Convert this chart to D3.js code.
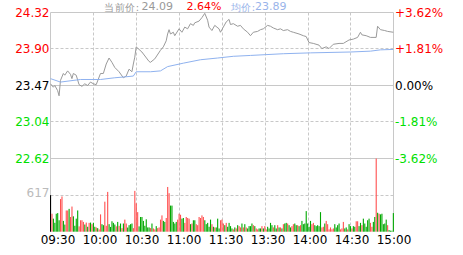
<!DOCTYPE html>
<html><head><meta charset="utf-8">
<script src="https://cdn.jsdelivr.net/npm/d3@7"></script>
<style>body{margin:0;background:#fff}svg{display:block}text{font-family:"DejaVu Sans",sans-serif}</style>
</head><body><svg id="c" width="463" height="255"></svg>
<script>
// ---- data ----
const prevClose = 23.47;
const priceTicks = [24.32, 23.90, 23.47, 23.04, 22.62];
const pctTicks = ["+3.62%", "+1.81%", "0.00%", "-1.81%", "-3.62%"];
const timeLabels = ["09:30","10:00","10:30","11:00","11:30","13:30","14:00","14:30","15:00"];
const volTickLabel = "617";
const volMax = 1234;
const header = {name:"当前价:", price:"24.09", pct:"2.64%", avgName:"均价:", avg:"23.89"};

// price line (minute index, price)
const priceMin = [0,2,3,5,6,7,9,10,12,14,15,16,18,20,22,24,26,28,30,32,35,37,39,41,43,45,48,51,53,55,57,58,59,60,64,69,70,73,77,79,81,82,83,84,86,87,90,92,94,96,98,100,101,104,106,108,110,111,113,115,118,119,121,123,125,126,128,131,133,135,138,140,142,145,147,149,152,154,156,159,161,163,166,168,170,174,177,179,181,184,188,190,193,195,198,202,205,209,212,215,217,218,221,224,228,229,231,234,236,240];
const priceVal = [23.49,23.45,23.47,23.41,23.35,23.53,23.61,23.59,23.64,23.60,23.55,23.61,23.59,23.48,23.46,23.49,23.47,23.51,23.49,23.48,23.61,23.61,23.72,23.79,23.74,23.68,23.63,23.56,23.58,23.66,23.63,23.72,23.80,23.92,23.86,23.75,23.74,23.78,23.88,23.92,23.99,24.07,24.12,24.07,24.09,24.05,24.13,24.09,24.15,24.13,24.19,24.17,24.20,24.22,24.26,24.31,24.23,24.15,24.11,24.17,24.13,24.09,24.15,24.21,24.24,24.18,24.19,24.16,24.17,24.13,24.09,24.05,24.09,24.10,24.12,24.13,24.17,24.16,24.14,24.12,24.13,24.11,24.12,24.10,24.09,24.07,24.05,24.04,23.97,23.96,23.94,23.90,23.92,23.90,23.95,23.96,23.96,24.00,24.01,24.03,24.09,24.06,24.05,24.03,24.03,24.16,24.12,24.11,24.10,24.09];
// average price line
const avgMin = [0,7,21,35,45,52,58,60,70,77,82,93,105,117,128,140,163,182,210,224,231,240];
const avgVal = [23.55,23.51,23.54,23.54,23.56,23.57,23.58,23.63,23.63,23.64,23.69,23.73,23.77,23.79,23.81,23.82,23.84,23.85,23.86,23.87,23.885,23.89];
// volume per minute (241) and direction K=first, R=up, G=down
const volume = [
616,303,220,150,303,314,193,550,594,182,
120,358,358,385,248,424,259,100,220,358,
90,193,193,165,121,154,83,149,154,127,
149,83,72,60,39,292,127,110,506,100,
671,127,80,176,149,121,90,165,99,138,
60,138,204,138,70,110,127,138,60,688,
479,330,90,248,248,182,100,209,72,72,
60,138,55,39,94,60,72,204,275,182,
165,231,754,649,440,440,165,138,165,204,
303,286,220,231,149,248,231,220,127,138,
193,193,127,110,248,231,275,248,193,127,
149,83,204,127,83,72,72,220,55,193,
204,138,110,149,83,149,94,55,39,72,
55,110,94,72,138,72,127,72,55,94,
94,138,110,94,55,39,55,55,94,55,
94,39,83,55,149,110,72,110,55,110,
72,72,55,127,138,149,138,110,72,94,
127,138,110,110,94,110,182,127,138,347,
138,83,182,127,149,110,94,110,94,330,
72,83,138,182,127,39,72,39,55,127,
72,110,138,39,55,165,55,72,39,127,
94,55,94,83,176,176,94,149,110,220,
138,83,193,220,149,83,165,248,1234,319,
303,292,303,127,138,204,110,28,17,17,314];
const volDir = (
"KRGGGGGRRG"+"GRRGRRGGGG"+"RRRRGRGRGR"+"GGRGRRGGRR"+"RGGGGGRGRG"+
"RGRRGGGGRR"+"RRGGGGGGGG"+"RGRRGRRRRG"+"GRRRGGGGGR"+"RRGGRRRRGR"+
"GGRRRRRRGG"+"GGGRGRGGGR"+"RRGRGGGGRG"+"RGRRGRGRGG"+"GGRGRRGGRG"+
"RRGGGGRGGR"+"GRGRGGRGGR"+"RGGRGRGGGG"+"GGGRRGGGGG"+"RRGRRRRRRG"+
"GGGRRRGGRG"+"GRGGRRGGRG"+"GGGGRRGGRG"+"RGGGGGRGGGG").split("");

// ---- layout ----
const svg = d3.select("#c");
const L = 50.5, R = 393.5, T = 12.5, MID = 158.5, B = 231.7;
const x = d3.scaleLinear().domain([0, 240]).range([50.5, 393.3]);
const y = d3.scaleLinear().domain([priceTicks[4], priceTicks[0]]).range([MID, T]);
const yv = d3.scaleLinear().domain([0, volMax]).range([B, MID]);
const xl = d3.scalePoint().domain(timeLabels).range([58, 394]);
const up = "#ff0000", dn = "#00e000";
const tickColor = [up, up, "#000", dn, dn];

const gridC = "#c8c8c8";
const g = svg.append("g");
d3.range(30, 240, 30).forEach(m => {
  const xx = Math.round(x(m)) + 0.5;
  g.append("line").attr("x1", xx).attr("x2", xx).attr("y1", T).attr("y2", B)
    .attr("stroke", gridC).attr("stroke-dasharray", "3,2");
});
const yPos = [12.5, 48.5, 85.5, 121.5, 158.5];
priceTicks.forEach((p, i) => {
  const yy = yPos[i];
  g.append("line").attr("x1", L).attr("x2", R).attr("y1", yy).attr("y2", yy)
    .attr("stroke", gridC).attr("stroke-dasharray", (i === 1 || i === 3) ? "3,2" : null);
});
const yvm = Math.round(yv(volMax / 2) - 0.5) + 0.5;
g.append("line").attr("x1", L).attr("x2", R).attr("y1", yvm).attr("y2", yvm)
  .attr("stroke", gridC).attr("stroke-dasharray", "3,2");
[L, R].forEach(xx => g.append("line").attr("x1", xx).attr("x2", xx).attr("y1", T).attr("y2", B).attr("stroke", gridC));

// volume bars
svg.append("g").selectAll("rect").data(volume).join("rect")
  .attr("x", (d, i) => x(i) - 0.5).attr("width", 1.1)
  .attr("y", d => yv(d)).attr("height", d => B - yv(d))
  .attr("fill", (d, i) => volDir[i] === "K" ? "#000" : volDir[i] === "R" ? "#ff5050" : "#00a800");

// price & avg lines
const line = d3.line().x(d => x(d[0])).y(d => y(d[1]));
svg.append("path").datum(priceMin.map((m, i) => [m, priceVal[i]]))
  .attr("d", line).attr("fill", "none").attr("stroke", "#9a9a9a").attr("stroke-width", 1);
svg.append("path").datum(avgMin.map((m, i) => [m, avgVal[i]]))
  .attr("d", line).attr("fill", "none").attr("stroke", "#8fb2ef").attr("stroke-width", 1);

// axis labels
priceTicks.forEach((p, i) => {
  const yy = yPos[i];
  svg.append("text").attr("x", 49.5).attr("y", yy).attr("dy", "0.36em")
    .attr("text-anchor", "end").attr("font-size", 12).attr("fill", tickColor[i]).text(p.toFixed(2));
  svg.append("text").attr("x", 395).attr("y", yy).attr("dy", "0.36em")
    .attr("font-size", 12).attr("fill", tickColor[i]).text(pctTicks[i]);
});
svg.append("text").attr("x", 49.5).attr("y", 193).attr("dy", "0.36em").attr("text-anchor", "end")
  .attr("font-size", 12).attr("fill", "#bbb").text(volTickLabel);

svg.append("g").selectAll("text").data(timeLabels).join("text")
  .attr("x", d => xl(d)).attr("y", 244).attr("text-anchor", "middle")
  .attr("font-size", 12).attr("fill", "#000").text(d => d);

// header (separate texts)
const cjk = "'Noto Sans CJK SC',sans-serif";
svg.append("text").attr("x", 104).attr("y", 11).attr("font-size", 10).attr("font-family", cjk)
  .attr("letter-spacing", 0.6).attr("fill", "#999").text(header.name);
svg.append("text").attr("x", 141.5).attr("y", 10).attr("font-size", 11).attr("fill", "#999").text(header.price);
svg.append("text").attr("x", 186.5).attr("y", 10).attr("font-size", 11).attr("fill", "#ff0000").text(header.pct);
svg.append("text").attr("x", 230.5).attr("y", 11).attr("font-size", 10).attr("font-family", cjk)
  .attr("letter-spacing", 0.6).attr("fill", "#99b4ea").text(header.avgName);
svg.append("text").attr("x", 255).attr("y", 10).attr("font-size", 11).attr("fill", "#99b4ea").text(header.avg);
</script></body></html>
